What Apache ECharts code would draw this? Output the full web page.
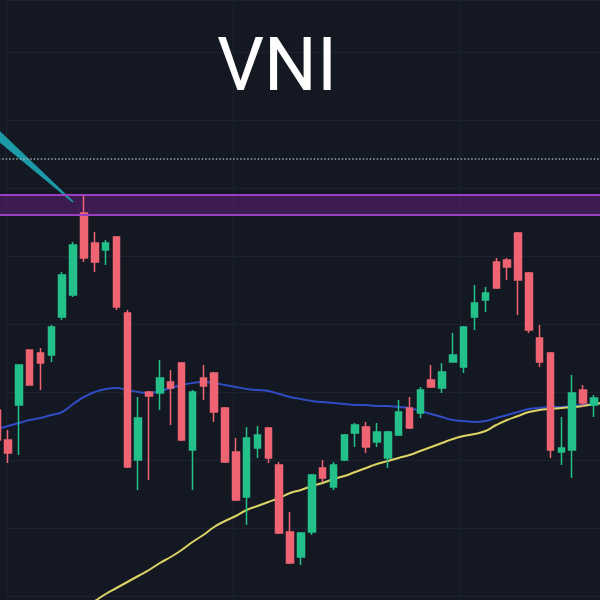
<!DOCTYPE html>
<html>
<head>
<meta charset="utf-8">
<script src="https://cdn.jsdelivr.net/npm/echarts@6/dist/echarts.min.js"></script>
<style>html,body{margin:0;padding:0;background:#141822;}#c{width:600px;height:600px;}</style>
</head>
<body>
<div id="c"></div>
<script>
// ---- data ----
const categories = ['1','2','3','4','5','6','7','8','9','10','11','12','13','14','15','16','17','18','19','20',
  '21','22','23','24','25','26','27','28','29','30','31','32','33','34','35','36','37','38','39','40',
  '41','42','43','44','45','46','47','48','49','50','51','52','53','54','55','56','57'];
const opens  = [1095,1080,1097.5,1125,1123.5,1122.5,1141.5,1152.5,1193.5,1178.5,1175,1181.5,1143.5,1070,1104,1103.5,1109,1118.5,1075,1111,
  1113.5,1096,1074,1051.5,1076,1086,1067.5,1034,1021.5,1034,1066,1056.5,1070,1083.5,1086.5,1079,1071,1082.5,1096,1093.5,
  1110,1106,1119,1116.5,1141.5,1150,1169,1170,1183.5,1163.5,1131,1123.5,1074,1075,1105,1097.5,'-'];
const closes = [1080,1073.5,1117.5,1107.5,1118.5,1136.5,1162.5,1177.5,1171,1169,1178.5,1146.5,1066.5,1091,1102,1111,1106,1080,1104,1107,
  1094,1069,1050,1081,1082.5,1071,1033.5,1018.5,1033.5,1062.5,1061,1067.5,1082.5,1087.5,1076.5,1084,1084,1094,1086,1105,
  1106.5,1114,1122.5,1136.5,1148.5,1153.5,1156,1166.5,1160,1135,1119,1075,1076,1103.5,1098.5,1101,'-'];
const lows   = [1080,1068.5,1072.5,1107.5,1105,1119,1140,1151.5,1169,1164,1167.5,1145,1066,1055,1060,1095,1087.5,1079.5,1055,1100,
  1089,1068.5,1049.5,1037.5,1071,1068.5,1033,1018,1017.5,1032.5,1059,1055,1069.5,1076.5,1073.5,1076.5,1066,1082,1085.5,1091,
  1106,1103.5,1119,1113.5,1135,1144,1155.5,1160,1142.5,1133.5,1116.5,1071,1067.5,1061,1096.5,1091.5,'-'];
const highs  = [1095,1085,1117.5,1125,1126,1137.5,1164,1179,1202.5,1184,1180,1182,1145,1101.5,1104.5,1120,1115,1119,1105,1117.5,
  1114,1096.5,1081,1086.5,1087,1086.5,1069,1044,1034,1063,1070,1069,1083,1088.5,1089,1088.5,1084.5,1100,1101.5,1106.5,
  1117.5,1118.5,1133.5,1137,1157.5,1156.5,1171,1171,1184,1164,1137.5,1124,1091.5,1112.5,1107.5,1102.5,'-'];
const maBlue = [1085.5,1087,1088.5,1090,1091,1092.5,1094,1098,1101.5,1104,1105.5,1106,1105,1104,1103.5,1104.5,1106,1107.5,1108.5,1109,
  1108.5,1107.5,1106.5,1105.5,1105,1104.5,1103,1101.5,1100.5,1099.5,1099,1098.5,1098,1097.5,1097.5,1097,1097,1096.5,1096,1094.5,
  1093,1091.5,1090,1089.5,1089,1089.5,1091,1092.5,1094,1095.5,1096,1096.5,1096.5,1097,1097.5,1098,1098.5];
const maYellow = ['-','-','-','-','-','-','-',991.5,996.5,999.5,1003,1006,1009,1012,1015,1018.5,1021.5,1025,1029,1032.5,
  1036.5,1039.5,1042,1045,1047,1049,1051,1053.5,1055,1057,1058.5,1060.5,1062,1064,1066,1068,1069.5,1071,1072.5,1074.5,
  1076.5,1078.5,1080.5,1082,1083,1084.5,1087.5,1090,1092,1094,1095,1095.5,1096,1096.5,1097,1098,1098.5];
const zoneTop = 1202.5, zoneBottom = 1192.5;   // purple resistance zone
const dottedLevel = 1220.5;                     // dotted level
const arrowLine = [[0, 1232.75, 7, 1199]];      // teal pointer: [startIdx, startPrice, endIdx, endPrice]
const titleText = 'VNI';

// ---- chart ----
const candles = categories.map((c, i) => opens[i] === '-' ? '-' : [opens[i], closes[i], lows[i], highs[i]]);
const chart = echarts.init(document.getElementById('c'), null, {renderer: 'canvas'});
const hid = {axisLine:{show:false}, axisTick:{show:false}, axisLabel:{show:false}};
chart.setOption({
  backgroundColor: '#141822',
  animation: false,
  title: {text: titleText, left: 212, top: 29,
    textStyle: {color: '#ffffff', fontSize: 74, fontWeight: 'normal', fontFamily: 'Roboto'}},
  grid: [
    {left: -8.3, width: 618.5, top: 0, height: 600, outerBoundsMode: 'none', containLabel: false},
    {left: 6, right: 0, top: 0, bottom: 4, outerBoundsMode: 'none'}
  ],
  xAxis: [
    Object.assign({type: 'category', data: categories, boundaryGap: true, gridIndex: 0, splitLine: {show: false}}, hid),
    Object.assign({type: 'value', gridIndex: 1, min: 0, max: 594, interval: 227,
      splitLine: {show: true, lineStyle: {color: '#1d2230', width: 1}}}, hid)
  ],
  yAxis: [
    Object.assign({type: 'value', gridIndex: 0, min: 1000, max: 1300, splitLine: {show: false}}, hid),
    Object.assign({type: 'value', gridIndex: 1, min: 0, max: 596, interval: 68,
      splitLine: {show: true, lineStyle: {color: '#1d2230', width: 1}}}, hid)
  ],
  series: [
    {
      type: 'candlestick', xAxisIndex: 0, yAxisIndex: 0, data: candles, barWidth: 7, z: 3,
      itemStyle: {color: '#24c08a', color0: '#ef6472', borderColor: '#24c08a', borderColor0: '#ef6472', borderWidth: 1.5},
      markArea: {silent: true, itemStyle: {color: 'rgba(110, 34, 140, 0.45)'},
        data: [[{yAxis: zoneTop}, {yAxis: zoneBottom}]]},
      markLine: {silent: true, symbol: 'none', label: {show: false},
        data: [
          {yAxis: zoneTop, lineStyle: {color: '#9a3fc2', width: 2, type: 'solid'}},
          {yAxis: zoneBottom, lineStyle: {color: '#9a3fc2', width: 2, type: 'solid'}},
          {yAxis: dottedLevel, lineStyle: {color: '#9aaab0', width: 1.5, type: [1.5, 2]}}
        ]}
    },
    {type: 'line', data: maBlue, xAxisIndex: 0, yAxisIndex: 0, symbol: 'none', smooth: true, z: 2,
      lineStyle: {color: '#2f4cc4', width: 2}},
    {type: 'line', data: maYellow, xAxisIndex: 0, yAxisIndex: 0, symbol: 'none', smooth: true, z: 2,
      lineStyle: {color: '#dcd464', width: 2}},
    {type: 'custom', xAxisIndex: 0, yAxisIndex: 0, data: arrowLine, encode: {x: [0, 2], y: [1, 3]}, z: 4,
      renderItem: function (params, api) {
        const p0 = api.coord([api.value(0), api.value(1)]);
        const p1 = api.coord([api.value(2), api.value(3)]);
        const dx = p1[0] - p0[0], dy = p1[1] - p0[1];
        const len = Math.sqrt(dx * dx + dy * dy);
        const nx = -dy / len, ny = dx / len;
        const w0 = 4.5, w1 = 0.8;
        return {type: 'polygon', shape: {points: [
          [p0[0] + nx * w0, p0[1] + ny * w0], [p1[0] + nx * w1, p1[1] + ny * w1],
          [p1[0] - nx * w1, p1[1] - ny * w1], [p0[0] - nx * w0, p0[1] - ny * w0]]},
          style: {fill: '#1c9aa8'}};
      }}
  ]
});
</script>
</body>
</html>
